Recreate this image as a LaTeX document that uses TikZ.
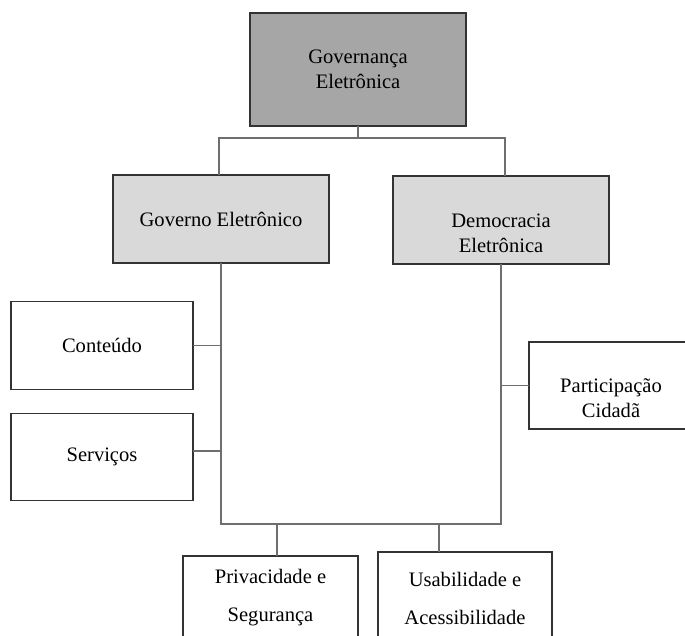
\documentclass[tikz,border=0pt]{standalone}
\usepackage{fontspec}
\setmainfont{Liberation Serif}
\usepackage{tikz}
\usetikzlibrary{positioning,calc}
\usepackage{xcolor}
\definecolor{darkfill}{HTML}{A6A6A6}
\definecolor{lightfill}{HTML}{D9D9D9}
\definecolor{linegray}{HTML}{6E6E6E}

\begin{document}
\begin{tikzpicture}[
  box/.style={draw=black!80, line width=0.7pt, inner sep=2pt, outer sep=0pt,
    align=center, font=\fontsize{11.7}{14.2}\selectfont},
  lvlone/.style={box, fill=darkfill, minimum width=4.32cm, minimum height=2.26cm},
  lvltwo/.style={box, fill=lightfill, minimum width=4.32cm, minimum height=1.76cm},
  leaf/.style={box, fill=white, minimum width=3.64cm, minimum height=1.75cm},
  lowleaf/.style={box, fill=white, font=\fontsize{11.7}{21.6}\selectfont},
  lbl/.style={align=center, font=\fontsize{11.7}{14.2}\selectfont},
  conn/.style={draw=linegray, line width=0.6pt}
]
  \useasboundingbox (0,0) rectangle (13.7,12.72);

  \node[lvlone] (ge) at (7.16,11.33) {Governança\\ Eletrônica};
  \node[lvltwo] (eg) at (4.42,8.34) {Governo Eletrônico};
  \node[lvltwo, label={[lbl, yshift=-0.26cm]center:Democracia\\ Eletrônica}] (ed) at (10.02,8.32) {};

  \node[leaf] (ct) at (2.04,5.81) {Conteúdo};
  \node[leaf] (sv) at (2.04,3.58) {Serviços};
  \node[box, minimum width=3.28cm, minimum height=1.74cm,
    label={[lbl, yshift=-0.26cm]center:Participação\\ Cidadã}] (pc) at (12.22,5.01) {};

  \node[lowleaf, minimum width=3.5cm, minimum height=1.68cm] (pv) at (5.41,0.76) {Privacidade e\\ Segurança};
  \node[lowleaf, minimum width=3.48cm, minimum height=1.86cm] (us) at (9.30,0.75) {Usabilidade e\\ Acessibilidade};

  \coordinate (split) at ($(ge.south)+(0,-0.24)$);
  \coordinate (bus) at (4.42,2.24);

  \draw[conn] (ge.south) -- (split);
  \draw[conn] ([xshift=-0.04cm]eg.north) |- (split) -| ([xshift=0.08cm]ed.north);
  \draw[conn] (eg.south) |- (bus) -| (ed.south);

  \draw[conn] (ct.east) -- (ct.east -| eg.south);
  \draw[conn] ([yshift=0.12cm]sv.east) -- ([yshift=0.12cm]sv.east -| eg.south);
  \draw[conn] (pc.west) -- (pc.west -| ed.south);

  \draw[conn] ([xshift=0.13cm]pv.north) -- ([xshift=0.13cm]pv.north |- bus);
  \draw[conn] ([xshift=-0.52cm]us.north) -- ([xshift=-0.52cm]us.north |- bus);
\end{tikzpicture}
\end{document}
